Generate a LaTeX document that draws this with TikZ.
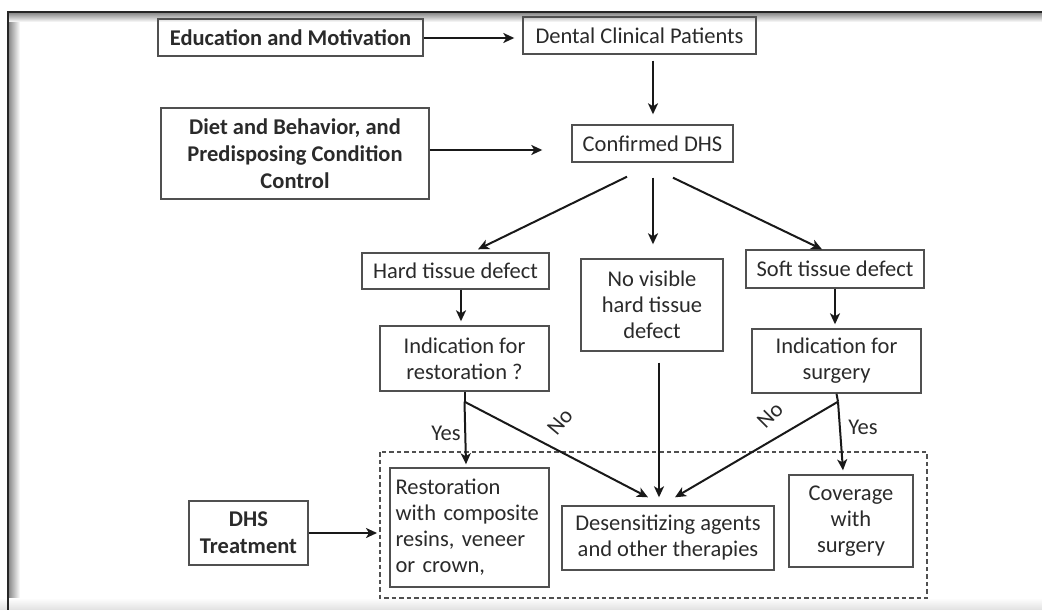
\documentclass[tikz,border=0pt]{standalone}
\usepackage{fontspec}
\setmainfont{Carlito}
\usetikzlibrary{arrows.meta}
\definecolor{txt}{HTML}{2A2A2A}
\definecolor{bord}{HTML}{505050}
\begin{document}
\begin{tikzpicture}[x=1pt,y=-1pt,
  box/.style={draw=bord, line width=1.4pt, inner sep=0pt, text=txt, align=center,
    font=\fontsize{22.5}{26}\selectfont},
  bbox/.style={box, font=\fontsize{22.5}{27}\selectfont\bfseries},
  arr/.style={draw=black!90, line width=2pt, -{Stealth[length=11pt,width=10pt,inset=3pt]}},
  ln/.style={draw=black!90, line width=2pt},
  lab/.style={text=txt, inner sep=0pt, font=\fontsize{22.5}{24}\selectfont}]
\useasboundingbox (0,0) rectangle (1042,610);
% frame with shadow
\shade[left color=black!45, right color=white] (9,13) rectangle (20,610);
\shade[top color=black!45, bottom color=white] (9,13) rectangle (1042,22);
\shade[top color=white, bottom color=black!12] (0,598) rectangle (1042,610);
\draw[line width=2.4pt, black!85] (8,610) -- (8,12) -- (1042,12);
% nodes
\node[bbox, minimum width=265, minimum height=37] (edu) at (290.5,37.5) {Education and Motivation};
\node[box, minimum width=233, minimum height=37] (dental) at (639.5,35.5) {Dental Clinical Patients};
\node[bbox, minimum width=268, minimum height=91] (diet) at (295,153.5) {Diet and Behavior, and\\Predisposing Condition\\Control};
\node[box, minimum width=161, minimum height=37] (conf) at (652.5,143.5) {Confirmed DHS};
\node[box, minimum width=187, minimum height=36] (hard) at (455.5,271) {Hard tissue defect};
\node[box, minimum width=142, minimum height=92] (novis) at (652,305) {No visible\\hard tissue\\defect};
\node[box, minimum width=178, minimum height=38] (soft) at (835,269) {Soft tissue defect};
\node[box, minimum width=169, minimum height=65] (indres) at (464.5,358.5) {Indication for\\restoration ?};
\node[box, minimum width=169, minimum height=64] (indsurg) at (836.5,361) {Indication for\\surgery};
\draw[bord, line width=1.2pt, dash pattern=on 4.5pt off 3pt] (380,452) rectangle (927,598);
\node[box, minimum width=159, minimum height=119, align=left, text width=148] (rest) at (469.5,527.5) {Restoration\\with composite\\resins, veneer\\or crown,};
\node[box, minimum width=212, minimum height=64] (desens) at (668,538) {Desensitizing agents\\and other therapies};
\node[box, minimum width=124, minimum height=92] (cover) at (851,521) {Coverage\\with\\surgery};
\node[bbox, minimum width=119, minimum height=64] (dhs) at (248.5,533) {DHS\\Treatment};
\coordinate (dgroup) at (379,533);
% connectors
\coordinate (ydiet) at (0,150);
\coordinate (xc) at (653,0);
\coordinate (xh) at (461,0);
\coordinate (xn) at (659,0);
\draw[arr, shorten >=8pt] (edu.east |- 0,38) -- (dental.west |- 0,38);
\draw[arr, shorten >=29pt] (diet.east |- ydiet) -- (conf.west |- ydiet);
\draw[arr, shorten <=6pt, shorten >=10pt] (xc |- dental.south) -- (xc |- conf.north);
\draw[arr] ([xshift=-25.5pt,yshift=-14pt]conf.south) -- ([xshift=22.5pt,yshift=3pt]hard.north);
\draw[arr, shorten <=15pt, shorten >=14pt] (xc |- conf.south) -- (xc |- novis.north);
\draw[arr] ([xshift=20.5pt,yshift=-15pt]conf.south) -- ([xshift=-13pt]soft.north);
\draw[arr, shorten >=4pt] (xh |- hard.south) -- (xh |- indres.north);
\draw[arr, shorten >=4pt] (soft.south) -- (soft.south |- indsurg.north);
\draw[arr, shorten <=11pt, shorten >=8pt] (xn |- novis.south) -- (xn |- desens.north);
\coordinate (vl) at ([yshift=-10pt]indres.south);
\coordinate (vr) at ([xshift=1.5pt,yshift=-8pt]indsurg.south);
\draw[ln] (indres.south) -- (vl);
\draw[ln] (indsurg.south) -- (vr);
\draw[arr] (vl) -- ([xshift=-3.5pt,yshift=3pt]rest.north);
\draw[arr] (vl) -- ([xshift=-20pt,yshift=8pt]desens.north);
\draw[arr] (vr) -- ([xshift=-8pt,yshift=4pt]cover.north);
\draw[arr] (vr) -- ([xshift=7pt,yshift=8pt]desens.north);
\draw[arr, shorten >=2pt] (dhs.east) -- (dgroup);
% labels
\node[lab] (yesl) at (446,433) {Yes};
\node[lab, rotate=50] (nol) at (560,422) {No};
\node[lab, rotate=45] (nor) at (770,415) {No};
\node[lab] (yesr) at (863,427) {Yes};
\end{tikzpicture}
\end{document}
